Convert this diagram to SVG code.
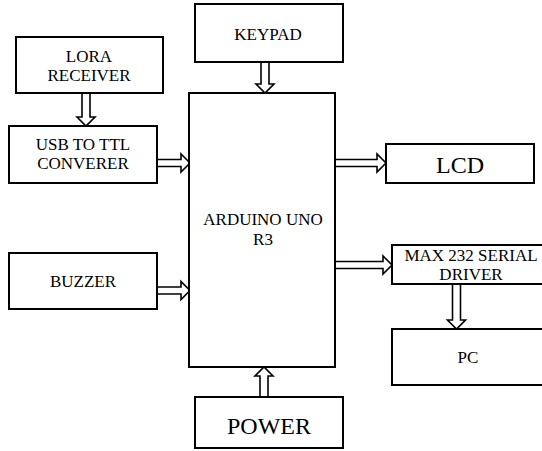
<svg xmlns="http://www.w3.org/2000/svg" width="542" height="451" viewBox="0 0 542 451" font-family="'Liberation Serif', 'DejaVu Serif', serif">
<style>
.box{fill:#fff;stroke:#000;stroke-width:2}
text{font-family:'Liberation Serif','DejaVu Serif',serif;font-size:17px;fill:#000;text-anchor:middle}
.big{font-size:24px}
.arr{fill:#fff;stroke:#000;stroke-width:1.6;stroke-linejoin:miter}
</style>
<rect width="542" height="451" fill="#fff"/>
<g id="connectors">
<path class="arr" d="M82,93 V117 H77 L86,126 L95,117 H90 V93"/>
<path class="arr" d="M157,159.5 H181 V154 L190,163 L181,172 V166.5 H157"/>
<path class="arr" d="M261,62 V84 H256 L265,93 L274,84 H269 V62"/>
<path class="arr" d="M157,287 H181 V281.5 L190,290.5 L181,299.5 V294 H157"/>
<path class="arr" d="M260,397 V376 H255 L264,367 L273,376 H268 V397"/>
<path class="arr" d="M335,159.5 H377 V154 L386,163 L377,172 V166.5 H335"/>
<path class="arr" d="M335,261.5 H383 V256 L392,265 L383,274 V268.5 H335"/>
<path class="arr" d="M452.5,284 V320 H447.5 L456.5,329 L465.5,320 H460.5 V284"/>
</g>
<g id="lora">
<rect class="box" x="16" y="37" width="147" height="56"/>
<text x="89" y="62">LORA</text>
<text x="89" y="81">RECEIVER</text>
</g>
<g id="usb">
<rect class="box" x="9" y="126" width="148" height="57"/>
<text x="83" y="150">USB TO TTL</text>
<text x="83" y="169">CONVERER</text>
</g>
<g id="keypad">
<rect class="box" x="195" y="4" width="148" height="58"/>
<text x="268" y="40">KEYPAD</text>
</g>
<g id="arduino">
<rect class="box" x="189" y="93" width="146" height="274"/>
<text x="263" y="225">ARDUINO UNO</text>
<text x="263" y="245">R3</text>
</g>
<g id="lcd">
<rect class="box" x="386" y="144" width="148" height="39"/>
<text class="big" x="460" y="173">LCD</text>
</g>
<g id="buzzer">
<rect class="box" x="9" y="253" width="148" height="56"/>
<text x="83" y="287">BUZZER</text>
</g>
<g id="max232">
<rect class="box" x="392" y="245" width="155" height="39"/>
<text x="471" y="261">MAX 232 SERIAL</text>
<text x="471" y="280">DRIVER</text>
</g>
<g id="pc">
<rect class="box" x="392" y="329" width="155" height="56"/>
<text x="468" y="363">PC</text>
</g>
<g id="power">
<rect class="box" x="195" y="397" width="148" height="51"/>
<text class="big" x="269" y="434">POWER</text>
</g>
</svg>
